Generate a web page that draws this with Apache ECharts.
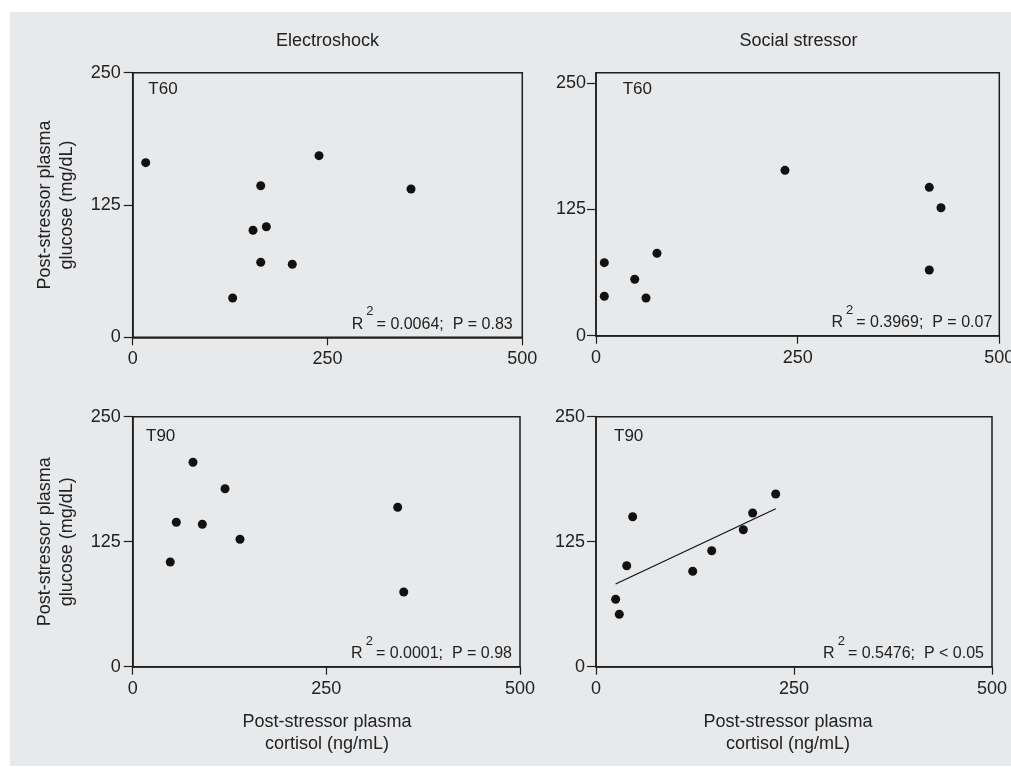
<!DOCTYPE html>
<html><head><meta charset="utf-8">
<script src="https://cdn.jsdelivr.net/npm/echarts@6/dist/echarts.min.js"></script>
<style>html,body{margin:0;padding:0;background:#fff}#c{width:1011px;height:767px}</style>
</head><body><div id="c"></div>
<script>
// ---- data ----
const columnTitles = ['Electroshock', 'Social stressor'];
const panelLabels = ['T60', 'T60', 'T90', 'T90'];
const statLabels = ['= 0.0064;  P = 0.83', '= 0.3969;  P = 0.07', '= 0.0001;  P = 0.98', '= 0.5476;  P < 0.05'];
const xTicks = [0, 250, 500];
const yTicks = [0, 125, 250];
const yAxisTitle = 'Post-stressor plasma\nglucose (mg/dL)';
const xAxisTitle = 'Post-stressor plasma\ncortisol (ng/mL)';
const electroT60 = [[16.7,165.0],[239.1,171.6],[164.3,143.2],[357.2,140.1],[154.4,101.1],[171.5,104.5],[164.3,70.9],[204.8,69.0],[128.3,37.1]];
const socialT60 = [[10.3,72.2],[10.3,39.0],[48.0,55.8],[62.0,37.3],[75.6,81.5],[234.3,163.5],[413.2,146.7],[427.7,126.5],[413.2,65.0]];
const electroT90 = [[77.8,204.4],[119.2,178.0],[56.3,144.4],[89.9,142.4],[138.5,127.4],[48.5,104.7],[342.1,159.4],[349.9,74.7]];
const socialT90 = [[46.3,150.0],[38.8,101.0],[24.8,67.4],[29.4,52.4],[122.1,95.4],[146.1,116.0],[186.0,137.0],[197.8,153.7],[226.9,172.7]];
const socialT90Fit = [[24.8,82.7],[226.9,158.0]];
const panelData = [electroT60, socialT60, electroT90, socialT90];
const yMax = [250, 260, 250, 250];

// ---- layout ----
const grids = [
  {left:132.7, top:72.7, width:389.6, height:264.6},
  {left:596,   top:72.7, width:403.3, height:263},
  {left:132.7, top:416.7, width:387.3, height:250},
  {left:596,   top:416.7, width:396,   height:250}
];
const labelOff = [[15.6,16.6],[26.7,16.6],[13.3,20],[18,20]];
const statOff = [9.6, 7, 8, 8];
const yLabelMargin = [12, 10, 12, 11];
const FONT = '"Liberation Sans", Arial, Helvetica, sans-serif';
const INK = '#1e1e1e';

const option = {
  backgroundColor: '#ffffff',
  animation: false,
  grid: grids.map(g => Object.assign({show:true, borderColor:INK, borderWidth:1.5, backgroundColor:'transparent', containLabel:false, outerBoundsMode:'none'}, g)),
  xAxis: grids.map((g,i) => ({
    gridIndex:i, type:'value', min:xTicks[0], max:xTicks[2], interval:xTicks[1]-xTicks[0],
    axisLine:{show:true, onZero:false, lineStyle:{color:INK, width:1.5}},
    axisTick:{show:true, length:8, lineStyle:{color:INK, width:1.2}},
    axisLabel:{margin:13, fontSize:18, color:'#222', fontFamily:FONT, hideOverlap:false},
    splitLine:{show:false}
  })),
  yAxis: grids.map((g,i) => ({
    gridIndex:i, type:'value', min:0, max:yMax[i],
    axisLine:{show:true, onZero:false, lineStyle:{color:INK, width:1.5}},
    axisTick:{show:true, length:9, customValues:yTicks, lineStyle:{color:INK, width:1.2}},
    axisLabel:{margin:yLabelMargin[i], fontSize:18, color:'#222', fontFamily:FONT, customValues:yTicks},
    splitLine:{show:false}
  })),
  series: panelData.map((d,i) => ({
    type:'scatter', xAxisIndex:i, yAxisIndex:i, data:d,
    symbol:'circle', symbolSize:9, itemStyle:{color:'#111', opacity:1}
  })).concat([{
    type:'line', xAxisIndex:3, yAxisIndex:3, data:socialT90Fit,
    showSymbol:false, symbol:'none', lineStyle:{color:'#111', width:1.2}
  }]),
  graphic: []
};

const measureCtx = document.createElement('canvas').getContext('2d');
function textWidth(t, size) { measureCtx.font = size + 'px ' + FONT; return measureCtx.measureText(t).width; }

const gfx = option.graphic;
gfx.push({type:'rect', silent:true, z:-10, shape:{x:10, y:12, width:1001, height:754}, style:{fill:'#e8e9eb'}});
// column titles
[[327.5, columnTitles[0]], [798.5, columnTitles[1]]].forEach(([x,t]) => {
  gfx.push({type:'text', x:x, y:41, style:{text:t, fill:'#222', fontSize:18, fontFamily:FONT, align:'center', verticalAlign:'middle'}});
});
// y axis titles
[0,2].forEach(i => {
  const g = grids[i];
  gfx.push({type:'text', x:56, y:g.top + g.height/2, rotation:Math.PI/2,
    style:{text:yAxisTitle, fill:'#222', fontSize:18, lineHeight:22, fontFamily:FONT, align:'center', verticalAlign:'middle'}});
});
// x axis titles
[[327, 2], [788, 3]].forEach(([x,i]) => {
  gfx.push({type:'text', x:x, y:733,
    style:{text:xAxisTitle, fill:'#222', fontSize:18, lineHeight:22, fontFamily:FONT, align:'center', verticalAlign:'middle'}});
});
// panel labels and stats
grids.forEach((g,i) => {
  gfx.push({type:'text', x:g.left + labelOff[i][0], y:g.top + labelOff[i][1],
    style:{text:panelLabels[i], fill:'#222', fontSize:17, fontFamily:FONT, align:'left', verticalAlign:'middle'}});
  const right = g.left + g.width - statOff[i];
  const cy = g.top + g.height - 13;
  const tail = statLabels[i];
  const wTail = textWidth(tail, 16) + 3;
  const wSup = textWidth('2', 13);
  gfx.push({type:'text', x:right, y:cy,
    style:{text:tail, fill:'#222', fontSize:16, fontFamily:FONT, align:'right', verticalAlign:'middle'}});
  gfx.push({type:'text', x:right - wTail, y:cy - 12.5,
    style:{text:'2', fill:'#222', fontSize:13, fontFamily:FONT, align:'right', verticalAlign:'middle'}});
  gfx.push({type:'text', x:right - wTail - wSup - 3, y:cy,
    style:{text:'R', fill:'#222', fontSize:16, fontFamily:FONT, align:'right', verticalAlign:'middle'}});
});

const chart = echarts.init(document.getElementById('c'), null, {renderer:'canvas'});
chart.setOption(option);
</script>
</body></html>
